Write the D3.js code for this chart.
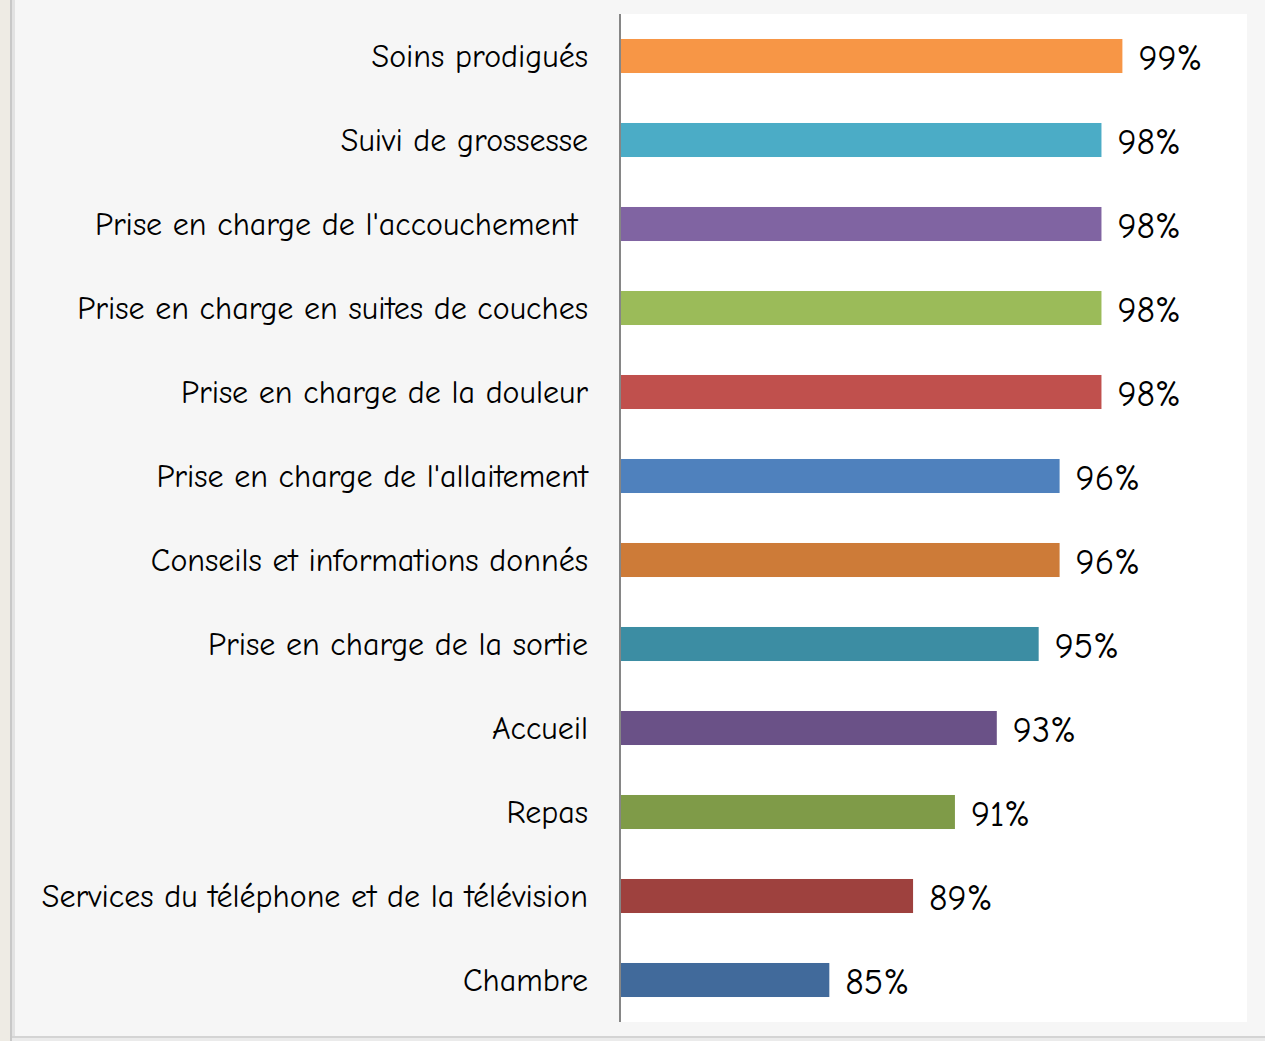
<!DOCTYPE html>
<html>
<head>
<meta charset="utf-8">
<script src="https://cdn.jsdelivr.net/npm/d3@7"></script>
<style>
  body { margin: 0; background: #f6f6f6; }
  text { font-family: "Comic Sans MS", "Comic Neue", "DejaVu Sans", sans-serif; fill: #000; }
</style>
</head>
<body>
<div id="chart"></div>
<script>
const width = 1265, height = 1041;

const categories = [
    "Soins prodigués",
    "Suivi de grossesse",
    "Prise en charge de l'accouchement ",
    "Prise en charge en suites de couches",
    "Prise en charge de la douleur",
    "Prise en charge de l'allaitement",
    "Conseils et informations donnés",
    "Prise en charge de la sortie",
    "Accueil",
    "Repas",
    "Services du téléphone et de la télévision",
    "Chambre"
];
const values = [99, 98, 98, 98, 98, 96, 96, 95, 93, 91, 89, 85];
const colors = ["#f79646", "#4bacc6", "#8064a2", "#9bbb59", "#c0504d", "#4f81bd",
                "#cd7b38", "#3c8da3", "#6a5187", "#7f9b48", "#9e413e", "#416a9b"];

const plot = { left: 620, right: 1248, top: 14, bottom: 1022 };

const svg = d3.select("#chart").append("svg")
    .attr("width", width)
    .attr("height", height);

// frame: beige strip + shadows on the left and bottom
svg.append("rect").attr("x", 0).attr("y", 0).attr("width", 10).attr("height", height).attr("fill", "#eeebe4");
svg.append("rect").attr("x", 10).attr("y", 0).attr("width", 2).attr("height", height).attr("fill", "#c8c8c8");
svg.append("rect").attr("x", 12).attr("y", 0).attr("width", 3).attr("height", height).attr("fill", "#e2e2e2");
svg.append("rect").attr("x", 12).attr("y", 1036).attr("width", width).attr("height", 2).attr("fill", "#d4d4d4");
svg.append("rect").attr("x", 12).attr("y", 1038).attr("width", width).attr("height", 3).attr("fill", "#ebebeb");

// white plot area
svg.append("rect")
    .attr("x", plot.left).attr("y", plot.top)
    .attr("width", 1247 - plot.left).attr("height", plot.bottom - plot.top)
    .attr("fill", "#ffffff");

const x = d3.scaleLinear()
    .domain([75, 105])
    .range([plot.left, plot.right]);

const y = d3.scaleBand()
    .domain(categories)
    .range([plot.top, plot.bottom])
    .paddingInner(0.595)
    .paddingOuter(0.2975);

svg.selectAll(".bar")
    .data(values)
    .enter().append("rect")
    .attr("class", "bar")
    .attr("x", x(75) + 1)
    .attr("y", (d, i) => y(categories[i]))
    .attr("width", d => x(d) - x(75) - 1)
    .attr("height", y.bandwidth())
    .attr("fill", (d, i) => colors[i]);

// category labels
svg.selectAll(".cat")
    .data(categories)
    .enter().append("text")
    .attr("class", "cat")
    .attr("x", 588)
    .attr("y", d => y(d) + y.bandwidth() / 2)
    .attr("dy", "0.33em")
    .attr("text-anchor", "end")
    .style("font-size", "32px")
    .style("white-space", "pre")
    .text(d => d);

// value labels
svg.selectAll(".val")
    .data(values)
    .enter().append("text")
    .attr("class", "val")
    .attr("x", d => x(d) + 16)
    .attr("y", (d, i) => y(categories[i]) + y.bandwidth() / 2 + 1)
    .attr("dy", "0.35em")
    .style("font-size", "36px")
    .text(d => d + "%");

// vertical axis line
svg.append("line")
    .attr("x1", plot.left).attr("x2", plot.left)
    .attr("y1", plot.top).attr("y2", plot.bottom)
    .attr("stroke", "#868686")
    .attr("stroke-width", 2);
</script>
</body>
</html>
